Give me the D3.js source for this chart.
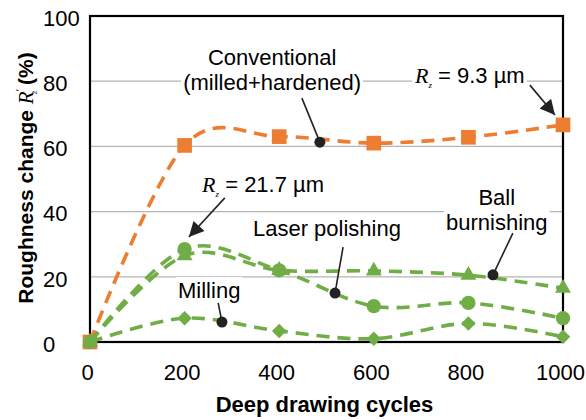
<!DOCTYPE html>
<html>
<head>
<meta charset="utf-8">
<script src="https://cdn.jsdelivr.net/npm/d3@7"></script>
<style>
  html, body { margin: 0; padding: 0; background: #fff; }
  svg { display: block; font-family: "Liberation Sans", Arial, sans-serif; }
</style>
</head>
<body>
<div id="chart"></div>
<script>
const cycles = [0, 200, 400, 600, 800, 1000];
const conventional = [0, 60.3, 63, 61, 62.8, 66.6];
const ballBurnishing = [0, 26.5, 22, 21.8, 20.5, 16.5];
const laserPolishing = [0, 28.5, 22, 11, 12, 7.3];
const milling = [0, 7.3, 3.4, 1, 5.7, 1.6];
const xTicks = [0, 200, 400, 600, 800, 1000];
const yTicks = [0, 20, 40, 60, 80, 100];
const gridTicks = [20, 40, 60, 80];

const W = 586, H = 420;
const orange = "#ed7d31", green = "#70ad47";
const fs = 22;

const svg = d3.select("#chart").append("svg")
  .attr("width", W).attr("height", H);

const x = d3.scaleLinear().domain([0, 1000]).range([90, 563]);
const y = d3.scaleLinear().domain([0, 100]).range([342, 16]);

// gridlines
svg.append("g").selectAll("line").data(gridTicks).join("line")
  .attr("x1", x(0)).attr("x2", x(1000))
  .attr("y1", d => y(d)).attr("y2", d => y(d))
  .attr("stroke", "#b4b4b4").attr("stroke-width", 1.3);

// frame
svg.append("rect")
  .attr("x", x(0)).attr("y", y(100))
  .attr("width", x(1000) - x(0)).attr("height", y(0) - y(100))
  .attr("fill", "none").attr("stroke", "#000").attr("stroke-width", 2.2);

// axes (labels only)
svg.append("g")
  .attr("transform", `translate(0,${y(0)})`)
  .call(d3.axisBottom(x).tickValues(xTicks).tickFormat(d3.format("d")).tickSize(0).tickPadding(0))
  .call(g => g.select(".domain").remove())
  .call(g => g.selectAll("text")
    .attr("y", 38).attr("dy", 0).attr("dx", -3)
    .attr("fill", "#000")
    .attr("font-family", "Liberation Sans, Arial, sans-serif")
    .attr("font-size", fs));

svg.append("g")
  .attr("transform", "translate(43,0)")
  .call(d3.axisLeft(y).tickValues(yTicks).tickSize(0).tickPadding(0))
  .call(g => g.select(".domain").remove())
  .call(g => g.selectAll("text")
    .attr("x", 0).attr("dy", "0.42em")
    .attr("text-anchor", "start")
    .attr("fill", "#000")
    .attr("font-family", "Liberation Sans, Arial, sans-serif")
    .attr("font-size", fs));

// axis titles
svg.append("text")
  .attr("x", (x(0) + x(1000)) / 2 - 2).attr("y", 412)
  .attr("text-anchor", "middle")
  .attr("font-size", fs).attr("font-weight", "bold")
  .text("Deep drawing cycles");

const yTitle = svg.append("text")
  .attr("transform", "translate(33,178) rotate(-90)")
  .attr("text-anchor", "middle")
  .attr("font-size", 21).attr("font-weight", "bold");
yTitle.append("tspan").text("Roughness change ");
yTitle.append("tspan").attr("font-family", "Liberation Serif, serif")
  .attr("font-style", "italic").attr("font-weight", "normal").text("R");
yTitle.append("tspan").attr("font-size", 11).attr("dy", -9).attr("font-weight", "normal").text("′");
yTitle.append("tspan").attr("font-size", 9).attr("dx", -5).attr("dy", 13)
  .attr("font-family", "Liberation Serif, serif").attr("font-style", "italic")
  .attr("font-weight", "normal").text("z");
yTitle.append("tspan").attr("dy", -4).text(" (%)");

// series
const series = [
  { name: "Conventional", values: conventional, color: orange, symbol: d3.symbolSquare, size: 215, rot: 0 },
  { name: "Milling", values: milling, color: green, symbol: d3.symbolSquare, size: 105, rot: 45 },
  { name: "Ball burnishing", values: ballBurnishing, color: green, symbol: d3.symbolTriangle, size: 110, rot: 0 },
  { name: "Laser polishing", values: laserPolishing, color: green, symbol: d3.symbolCircle, size: 160, rot: 0 }
];

const line = d3.line()
  .x((d, i) => x(cycles[i]))
  .y(d => y(d))
  .curve(d3.curveCatmullRom.alpha(0));

series.forEach(s => {
  svg.append("path")
    .attr("d", line(s.values))
    .attr("fill", "none")
    .attr("stroke", s.color)
    .attr("stroke-width", 3.6)
    .attr("stroke-dasharray", "13,8");
  svg.append("g").selectAll("path").data(s.values).join("path")
    .attr("transform", (d, i) => `translate(${x(cycles[i])},${y(d)}) rotate(${s.rot})`)
    .attr("d", d3.symbol().type(s.symbol).size(s.size))
    .attr("fill", s.color);
});

// annotations
const defs = svg.append("defs");
defs.append("marker")
  .attr("id", "arrow").attr("viewBox", "0 0 10 10")
  .attr("refX", 10).attr("refY", 5)
  .attr("markerWidth", 18).attr("markerHeight", 15)
  .attr("markerUnits", "userSpaceOnUse")
  .attr("orient", "auto")
  .append("path").attr("d", "M0,0 L10,5 L0,10 Z").attr("fill", "#222");

const labels = [
  { lines: ["Conventional", "(milled+hardened)"], cx: 385, v: [85, 77.2],
    from: [448, 74.8], to: [486, 61.3] },
  { lines: ["Laser polishing"], cx: 501, v: [32.5], from: [535, 29.1], to: [518, 15] },
  { lines: ["Ball", "burnishing"], cx: 860, v: [42.1, 34.3], from: [894, 33.4], to: [852, 20.6] },
  { lines: ["Milling"], cx: 252, v: [13.5], from: [271, 12], to: [279, 6.1] }
];

const annG = svg.append("g");
labels.forEach(l => {
  const g = annG.append("g");
  const t = g.append("text")
    .attr("text-anchor", "middle").attr("font-size", fs);
  l.lines.forEach((s, i) => t.append("tspan")
    .attr("x", x(l.cx)).attr("y", y(l.v[i])).text(s));
  const b = t.node().getBBox();
  g.insert("rect", "text").attr("x", b.x - 2).attr("y", b.y - 1)
    .attr("width", b.width + 4).attr("height", b.height + 3).attr("fill", "#fff");
  g.append("line")
    .attr("x1", x(l.from[0])).attr("y1", y(l.from[1]))
    .attr("x2", x(l.to[0])).attr("y2", y(l.to[1]))
    .attr("stroke", "#222").attr("stroke-width", 1.6);
  g.append("circle").attr("cx", x(l.to[0])).attr("cy", y(l.to[1]))
    .attr("r", 5.5).attr("fill", "#222");
});

const rzLabels = [
  { value: "9.3", x0: 687, v: 79.4, from: [930, 78.8], to: [983, 69.6] },
  { value: "21.7", x0: 237, v: 46, from: [285, 44.2], to: [209, 32.2] }
];
rzLabels.forEach(l => {
  const g = annG.append("g");
  const t = g.append("text").attr("x", x(l.x0)).attr("y", y(l.v)).attr("font-size", fs);
  t.append("tspan").attr("font-family", "Liberation Serif, serif")
    .attr("font-style", "italic").text("R");
  t.append("tspan").attr("font-family", "Liberation Serif, serif")
    .attr("font-style", "italic").attr("font-size", 9).attr("dy", 5).text("z");
  t.append("tspan").attr("dy", -5).text(` = ${l.value} µm`);
  const b = t.node().getBBox();
  g.insert("rect", "text").attr("x", b.x - 2).attr("y", b.y)
    .attr("width", b.width + 4).attr("height", b.height).attr("fill", "#fff");
  g.append("line")
    .attr("x1", x(l.from[0])).attr("y1", y(l.from[1]))
    .attr("x2", x(l.to[0])).attr("y2", y(l.to[1]))
    .attr("stroke", "#222").attr("stroke-width", 1.6)
    .attr("marker-end", "url(#arrow)");
});
</script>
</body>
</html>
